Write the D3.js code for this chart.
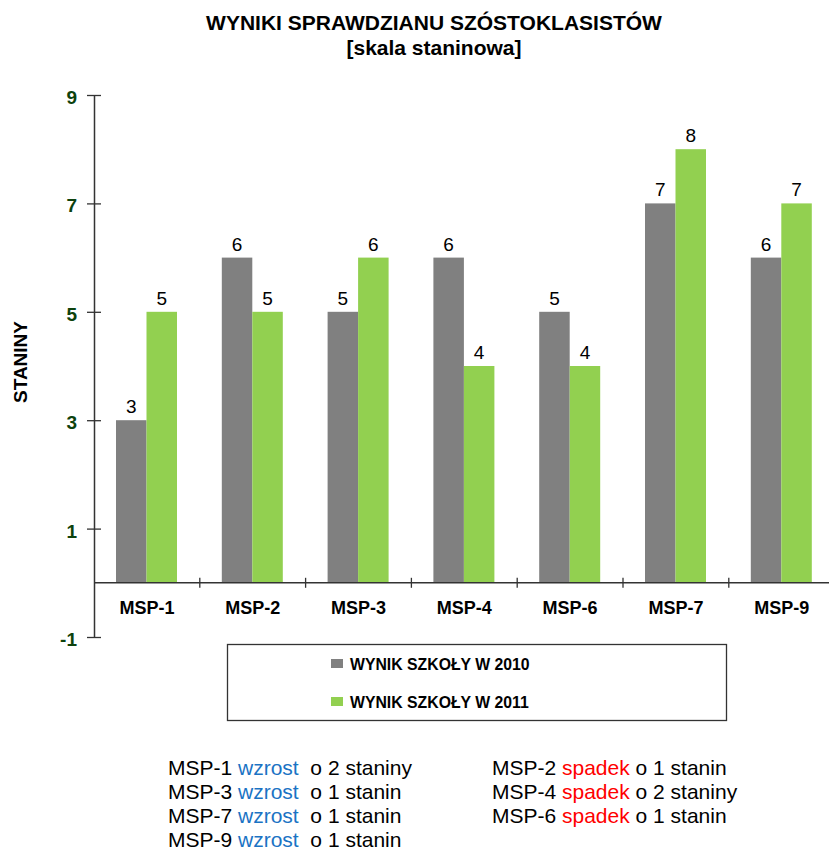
<!DOCTYPE html>
<html>
<head>
<meta charset="utf-8">
<script src="https://cdnjs.cloudflare.com/ajax/libs/d3/7.8.5/d3.min.js"></script>
<style>
  body { margin: 0; background: #fff; }
  svg { font-family: "Liberation Sans", Arial, sans-serif; }
</style>
</head>
<body>
<svg id="chart" width="829" height="851"></svg>
<script>
var categories = ["MSP-1", "MSP-2", "MSP-3", "MSP-4", "MSP-6", "MSP-7", "MSP-9"];
var values2010 = [3, 6, 5, 6, 5, 7, 6];
var values2011 = [5, 5, 6, 4, 4, 8, 7];
var seriesNames = ["WYNIK SZKOŁY W 2010", "WYNIK SZKOŁY W 2011"];
var yTicks = [-1, 1, 3, 5, 7, 9];

// notes under the chart
var riseSchools = ["MSP-1", "MSP-3", "MSP-7", "MSP-9"];
var riseTexts = ["o 2 staniny", "o 1 stanin", "o 1 stanin", "o 1 stanin"];
var fallSchools = ["MSP-2", "MSP-4", "MSP-6"];
var fallTexts = ["o 1 stanin", "o 2 staniny", "o 1 stanin"];

var colors = ["#808080", "#92d050"];

var svg = d3.select("#chart");

// title
svg.append("text").attr("x", 434).attr("y", 30).attr("text-anchor", "middle")
   .style("font-weight", "bold").style("font-size", "21px")
   .text("WYNIKI SPRAWDZIANU SZÓSTOKLASISTÓW");
svg.append("text").attr("x", 434).attr("y", 55).attr("text-anchor", "middle")
   .style("font-weight", "bold").style("font-size", "21px")
   .text("[skala staninowa]");

var x0 = 94;
var x = d3.scaleBand().domain(categories).range([x0, x0 + 105.8 * categories.length]).padding(0);
var xs = d3.scaleBand().domain([0, 1]).range([22, 83]).padding(0);
var y = d3.scaleLinear().domain([-1, 9]).range([637, 95]);

// bars
var rows = categories.map(function(c, i) { return {cat: c, vals: [values2010[i], values2011[i]]}; });
var group = svg.selectAll("g.grp").data(rows).enter().append("g")
   .attr("class", "grp")
   .attr("transform", function(d) { return "translate(" + x(d.cat) + ",0)"; });

group.selectAll("rect").data(function(d) { return d.vals; }).enter().append("rect")
   .attr("x", function(d, i) { return xs(i); })
   .attr("width", xs.bandwidth())
   .attr("y", function(d) { return y(d); })
   .attr("height", function(d) { return y(0) - y(d); })
   .attr("fill", function(d, i) { return colors[i]; });

group.selectAll("text.val").data(function(d) { return d.vals; }).enter().append("text")
   .attr("class", "val")
   .attr("x", function(d, i) { return xs(i) + xs.bandwidth() / 2; })
   .attr("y", function(d) { return y(d) - 7; })
   .attr("text-anchor", "middle")
   .style("font-size", "19px")
   .text(function(d) { return d; });

// y axis
var yAxis = svg.append("g").attr("transform", "translate(" + x0 + ",0)")
   .call(d3.axisLeft(y).tickValues(yTicks).tickSize(7).tickSizeOuter(0).tickPadding(10)
           .tickFormat(function(d) { return String(d); }));
yAxis.select(".domain").attr("stroke", "#333").attr("stroke-width", 1.5);
yAxis.selectAll(".tick line").attr("x1", 7).attr("stroke", "#333").attr("stroke-width", 1.3);
yAxis.selectAll(".tick text")
   .attr("dy", "0.45em")
   .style("font-size", "19px").style("font-weight", "bold")
   .style("font-family", "'Liberation Sans', Arial, sans-serif")
   .attr("fill", "#0d420d");

// x axis at zero
var xAxis = svg.append("g").attr("transform", "translate(0," + y(0) + ")");
xAxis.append("line").attr("x1", x0).attr("x2", x.range()[1])
   .attr("stroke", "#333").attr("stroke-width", 1.5);
xAxis.selectAll("line.tk").data(categories).enter().append("line")
   .attr("class", "tk")
   .attr("x1", function(d) { return x(d) + x.bandwidth(); })
   .attr("x2", function(d) { return x(d) + x.bandwidth(); })
   .attr("y1", -5).attr("y2", 5)
   .attr("stroke", "#333").attr("stroke-width", 1.3);
xAxis.selectAll("text").data(categories).enter().append("text")
   .attr("x", function(d) { return x(d) + x.bandwidth() / 2; })
   .attr("y", 31)
   .attr("text-anchor", "middle")
   .style("font-size", "18px").style("font-weight", "bold")
   .text(function(d) { return d; });

// y axis title
svg.append("text")
   .attr("transform", "translate(27,362) rotate(-90)")
   .attr("text-anchor", "middle")
   .style("font-size", "19px").style("font-weight", "bold")
   .text("STANINY");

// legend
var legend = svg.append("g");
legend.append("rect").attr("x", 227.5).attr("y", 644.5).attr("width", 499).attr("height", 76)
   .attr("fill", "none").attr("stroke", "#333").attr("stroke-width", 1.3);
var li = legend.selectAll("g.li").data(seriesNames).enter().append("g")
   .attr("transform", function(d, i) { return "translate(331," + (659 + i * 38) + ")"; });
li.append("rect").attr("width", 12).attr("height", 9)
   .attr("fill", function(d, i) { return colors[i]; });
li.append("text").attr("x", 19).attr("y", 11)
   .style("font-size", "15.8px").style("font-weight", "bold")
   .text(function(d) { return d; });

// notes
var notes = svg.append("g").style("font-size", "21px");
riseSchools.forEach(function(s, i) {
  var t = notes.append("text").attr("x", 168).attr("y", 775 + i * 24).attr("xml:space", "preserve");
  t.append("tspan").text(s + "\u00a0");
  t.append("tspan").attr("fill", "#1a73c4").text("wzrost");
  t.append("tspan").text("\u00a0\u00a0" + riseTexts[i]);
});
fallSchools.forEach(function(s, i) {
  var t = notes.append("text").attr("x", 492).attr("y", 775 + i * 24).attr("xml:space", "preserve");
  t.append("tspan").text(s + "\u00a0");
  t.append("tspan").attr("fill", "#ff0000").text("spadek");
  t.append("tspan").text("\u00a0" + fallTexts[i]);
});
</script>
</body>
</html>
